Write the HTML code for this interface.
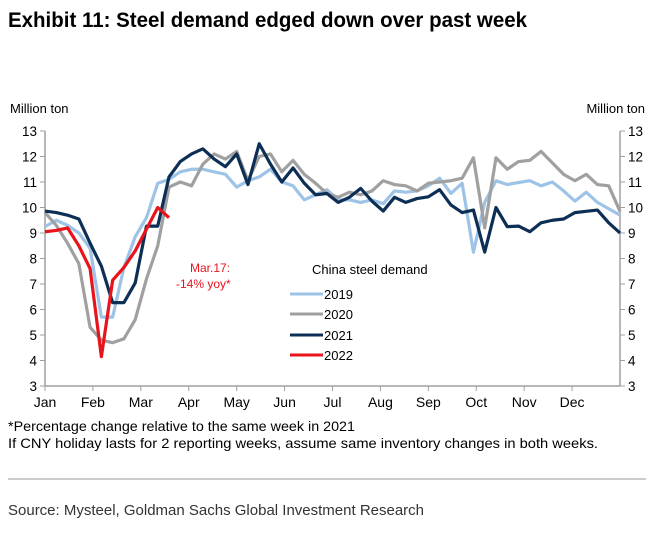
<!DOCTYPE html>
<html><head><meta charset="utf-8"><style>
body{margin:0;background:#fff;width:654px;height:529px;overflow:hidden;font-family:"Liberation Sans",Arial,sans-serif}
svg text{font-family:"Liberation Sans",Arial,sans-serif}
</style></head><body>
<svg width="654" height="529">
<text x="8" y="27" font-size="21" font-weight="bold" textLength="519" lengthAdjust="spacingAndGlyphs" style="font-family:'Liberation Sans Narrow','Liberation Sans',sans-serif" fill="#000">Exhibit 11: Steel demand edged down over past week</text>
<text x="10" y="113" font-size="13">Million ton</text>
<text x="645" y="113" font-size="13" text-anchor="end">Million ton</text>
<g id="axes"></g>
<g id="series"></g>
<text x="190" y="272" font-size="12" fill="#e8141c">Mar.17:</text>
<text x="176" y="288" font-size="12" fill="#e8141c">-14% yoy*</text>
<g>
<text x="312" y="274" font-size="13">China steel demand</text>
<line x1="290" y1="294" x2="323" y2="294" stroke="#9dc3e6" stroke-width="3"/>
<text x="324" y="299" font-size="13">2019</text>
<line x1="290" y1="314" x2="323" y2="314" stroke="#a0a0a0" stroke-width="3"/>
<text x="324" y="319" font-size="13">2020</text>
<line x1="290" y1="335" x2="323" y2="335" stroke="#0d2f55" stroke-width="3"/>
<text x="324" y="340" font-size="13">2021</text>
<line x1="290" y1="355" x2="323" y2="355" stroke="#e8141c" stroke-width="3"/>
<text x="324" y="360" font-size="13">2022</text>
</g>
<text x="8" y="431" font-size="14" textLength="347" lengthAdjust="spacingAndGlyphs">*Percentage change relative to the same week in 2021</text>
<text x="8" y="448" font-size="14" textLength="590" lengthAdjust="spacingAndGlyphs">If CNY holiday lasts for 2 reporting weeks, assume same inventory changes in both weeks.</text>
<line x1="8" y1="479" x2="646" y2="479" stroke="#9a9a9a" stroke-width="1"/>
<text x="8" y="515" font-size="15" fill="#333">Source: Mysteel, Goldman Sachs Global Investment Research</text>
</svg>
<script>
const months=["Jan","Feb","Mar","Apr","May","Jun","Jul","Aug","Sep","Oct","Nov","Dec"];
const yTicks=[3,4,5,6,7,8,9,10,11,12,13];
const s2019=[9.25,9.5,9.3,9.0,8.4,5.7,5.7,7.65,8.85,9.6,10.95,11.1,11.4,11.5,11.5,11.4,11.3,10.8,11.05,11.2,11.5,11.0,10.85,10.3,10.5,10.7,10.3,10.3,10.2,10.3,10.15,10.65,10.6,10.65,10.85,11.15,10.55,10.95,8.25,10.2,11.05,10.9,10.98,11.05,10.85,11.0,10.65,10.25,10.6,10.2,9.95,9.7];
const s2020=[9.8,9.3,8.6,7.8,5.3,4.8,4.7,4.85,5.6,7.2,8.5,10.8,11.0,10.85,11.7,12.1,11.9,12.2,11.05,12.0,12.1,11.4,11.85,11.3,10.95,10.55,10.4,10.6,10.5,10.65,11.05,10.9,10.85,10.65,10.95,11.0,11.05,11.15,11.95,9.2,11.95,11.5,11.8,11.85,12.2,11.75,11.3,11.05,11.3,10.9,10.85,9.85];
const s2021=[9.86,9.8,9.7,9.55,8.6,7.7,6.27,6.27,7.04,9.27,9.27,11.2,11.8,12.1,12.3,11.9,11.6,12.1,10.9,12.5,11.7,11.0,11.55,10.95,10.5,10.55,10.2,10.4,10.75,10.25,9.86,10.4,10.2,10.35,10.42,10.7,10.1,9.8,9.9,8.25,10.0,9.25,9.27,9.05,9.4,9.5,9.55,9.8,9.85,9.9,9.4,9.0];
const s2022=[9.05,9.1,9.2,8.5,7.6,4.15,7.15,7.65,8.3,9.15,10.0,9.6];
const NS="http://www.w3.org/2000/svg";
const X0=45,X1=620,Y0=386,Y1=131;
const xw=i=>X0+i*(X1-X0)/51;
const yv=v=>Y0-(v-3)*(Y0-Y1)/10;
const axes=document.getElementById('axes'),ser=document.getElementById('series');
function mk(tag,attrs,parent,txt){const e=document.createElementNS(NS,tag);for(const k in attrs)e.setAttribute(k,attrs[k]);if(txt!==undefined)e.textContent=txt;parent.appendChild(e);return e;}
let e=mk('line',{x1:X0,y1:Y1,x2:X0,y2:Y0,stroke:'#a0a0a0','stroke-width':1.5},axes);


e=mk('line',{x1:X1,y1:Y1,x2:X1,y2:Y0,stroke:'#a0a0a0','stroke-width':1.5},axes);


e=mk('line',{x1:X0,y1:Y0,x2:X1,y2:Y0,stroke:'#a0a0a0','stroke-width':1.5},axes);


yTicks.forEach(v=>{
 const y=yv(v);
 mk('line',{x1:X0-5,y1:y,x2:X0,y2:y,stroke:'#a0a0a0'},axes);
 mk('line',{x1:X1,y1:y,x2:X1+5,y2:y,stroke:'#a0a0a0'},axes);
 let t=mk('text',{x:X0-8,y:y+5,'font-size':13.5,'text-anchor':'end'},axes,v);
 
 
 t=mk('text',{x:X1+8,y:y+5,'font-size':13.5},axes,v);
 
 
});
months.forEach((m,i)=>{
 const x=X0+i*(X1-X0)/12;
 mk('line',{x1:x,y1:Y0,x2:x,y2:Y0+5,stroke:'#a0a0a0'},axes);
 const t=mk('text',{x:x,y:Y0+21,'font-size':14,'text-anchor':'middle'},axes,m);
 
 
});
function line(d,c,name){
 const p=mk('polyline',{points:d.map((v,i)=>xw(i)+','+yv(v)).join(' '),fill:'none',stroke:c,'stroke-width':3.2,'stroke-linejoin':'round'},ser);
 
 
}
line(s2019,'#9dc3e6','series-2019');
line(s2020,'#a0a0a0','series-2020');
line(s2021,'#0d2f55','series-2021');
line(s2022,'#e8141c','series-2022');
</script>
</body></html>
